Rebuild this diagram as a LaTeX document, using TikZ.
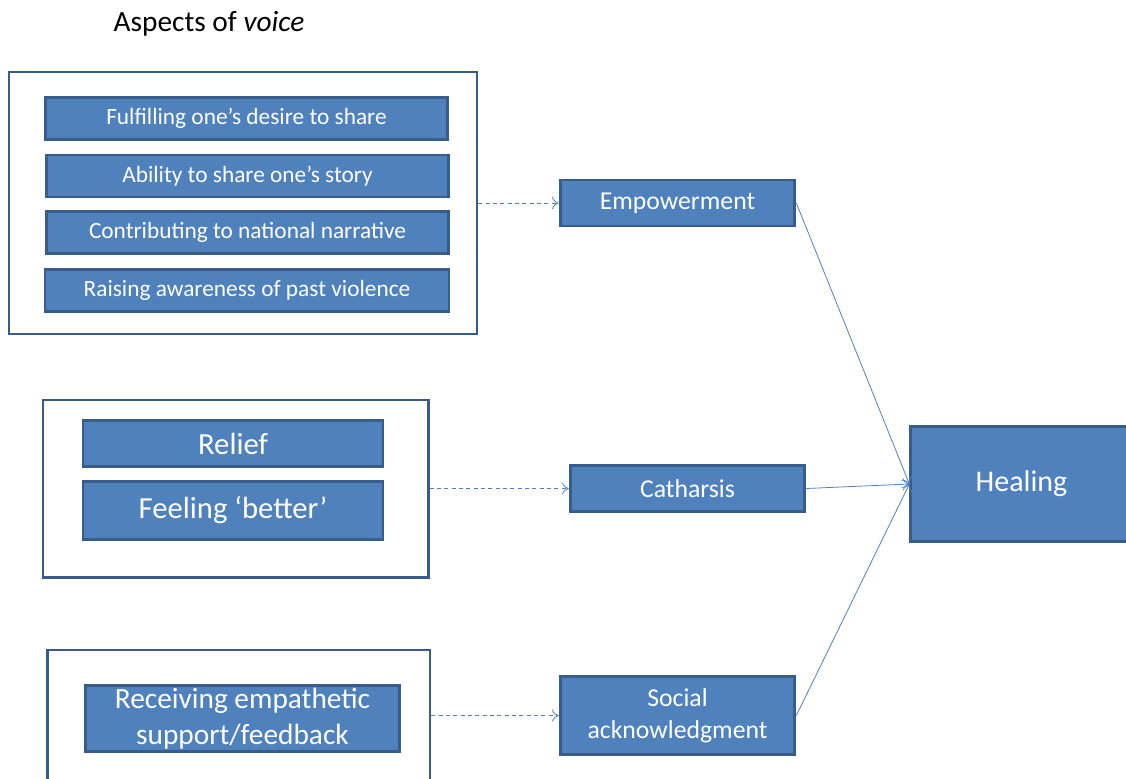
\documentclass[tikz,border=0pt]{standalone}
\usepackage{fontspec}
\setmainfont{Carlito}
\usetikzlibrary{arrows.meta}
\definecolor{boxblue}{HTML}{4F81BD}
\definecolor{edgeblue}{HTML}{385D8A}
\begin{document}
\begin{tikzpicture}[x=0.75pt,y=-0.75pt,
    frame/.style={draw=edgeblue, line width=2pt, fill=white, inner sep=0pt},
    item/.style={draw=edgeblue, line width=2.2pt, fill=boxblue, text=white, inner sep=1pt, align=center},
    small/.style={font=\fontsize{17.5}{20}\selectfont},
    big/.style={font=\fontsize{23}{26}\selectfont},
    mid/.style={font=\fontsize{19.3}{22}\selectfont},
    link/.style={draw=boxblue, line width=0.6pt, -{To[length=5pt,width=9pt]}},
    dlink/.style={link, dash pattern=on 3pt off 2.5pt}]
    \useasboundingbox (0,0) rectangle (1126,778);
    %titolo
    \node[font=\fontsize{22}{26}\selectfont] (title) at (209,24) {Aspects of \textit{voice}};
    %riquadri esterni
    \node[frame, minimum width=351pt, minimum height=196.5pt] (voice) at (243,203) {};
    \node[frame, minimum width=289pt, minimum height=133pt] (feel) at (235.5,488.5) {};
    \node[frame, minimum width=287pt, minimum height=105pt] (support) at (238.5,720) {};
    %voci interne
    \node[item, small, minimum width=302pt, minimum height=31pt] (share) at (246.5,118.5) {Fulfilling one’s desire to share};
    \node[item, small, minimum width=302pt, minimum height=31.5pt] (story) at (247.5,176) {Ability to share one’s story};
    \node[item, small, minimum width=302pt, minimum height=31pt] (narrative) at (247.5,232.5) {Contributing to national narrative};
    \node[item, small, minimum width=303pt, minimum height=31pt] (awareness) at (247,290.5) {Raising awareness of past violence};
    \node[item, big, minimum width=225pt, minimum height=35pt] (relief) at (233,443.5) {Relief};
    \node[item, big, minimum width=225pt, minimum height=43pt] (better) at (233,510.5) {Feeling ‘better’};
    \node[item, minimum width=236pt, minimum height=50pt, inner sep=0pt, font=\fontsize{22}{27.5}\selectfont] (empathy) at (242.5,718.5) {Receiving empathetic\\support/feedback};
    %esiti
    \node[item, mid, minimum width=176pt, minimum height=34.5pt] (empower) at (677.5,203) {Empowerment};
    \node[item, mid, minimum width=176pt, minimum height=34pt] (catharsis) at (687.5,488.5) {Catharsis};
    \node[item, minimum width=176pt, minimum height=58pt, inner sep=0pt, font=\fontsize{19.3}{24}\selectfont] (social) at (677.5,715.5) {Social\\acknowledgment};
    \node[item, font=\fontsize{22.5}{26}\selectfont, minimum width=166pt, minimum height=86pt] (healing) at (1021.5,484) {Healing};
    %frecce
    \draw[dlink] (voice.east) -- (empower.west);
    \draw[dlink] (feel.east) -- (catharsis.west);
    \draw[dlink] (support.east |- social.west) -- (social.west);
    \draw[link] (empower.east) -- (healing.west);
    \draw[link] (catharsis.east) -- (healing.west);
    \draw[link] (social.east) -- (healing.west);
\end{tikzpicture}
\end{document}
